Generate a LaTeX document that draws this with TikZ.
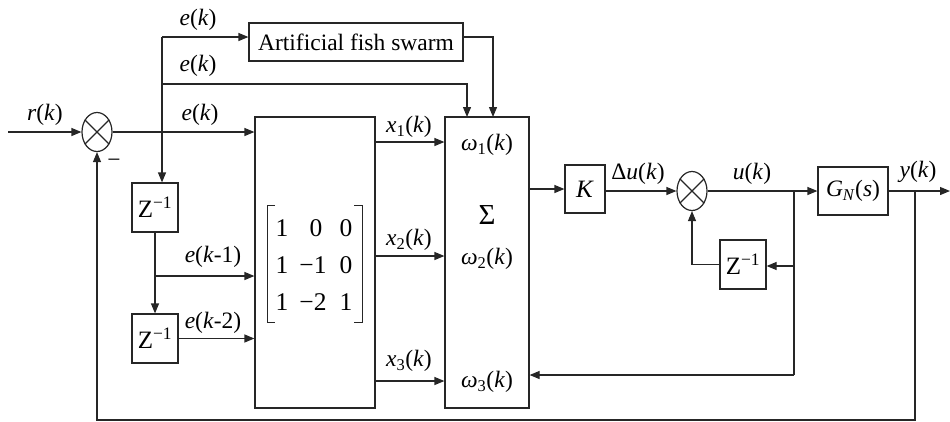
\documentclass[tikz,border=0pt]{standalone}
\usepackage{fontspec}
\setmainfont{Liberation Serif}
\usetikzlibrary{arrows.meta,shapes.geometric,calc}
\newcommand{\mi}[1]{\textit{#1}}
\begin{document}
\begin{tikzpicture}[x=1pt,y=-1pt,
  line width=1.2pt, draw=black!85,
  font=\fontsize{23.5}{27}\selectfont,
  blk/.style={draw=black!85, rectangle, inner sep=0pt},
  zbox/.style={blk, minimum width=46pt, minimum height=49pt, font=\fontsize{25}{28}\selectfont},
  sumj/.style={draw=black!85, ellipse, minimum width=30pt, minimum height=39pt, inner sep=0pt},
  arr/.style={-{Triangle[length=10pt,width=8pt]}},
  lbl/.style={inner sep=0pt},
  ment/.style={inner sep=0pt, font=\fontsize{25.5}{28}\selectfont}]
\useasboundingbox (0,0) rectangle (950,421);

% blocks
\node[sumj] (s1) at (97,132) {};
\draw (s1.45) -- (s1.225) (s1.135) -- (s1.315);
\node[blk, minimum width=120pt, minimum height=291pt] (mat) at (315,262.5) {};
\node[blk, minimum width=84pt, minimum height=291pt] (sig) at (487,262.5) {};
\node[blk, minimum width=214pt, minimum height=38pt] (fish) at (356,42) {Artificial fish swarm};
\node[zbox] (z1) at (155,207.5) {Z\textsuperscript{−1}};
\node[zbox] (z2) at (155,338.5) {Z\textsuperscript{−1}};
\node[blk, minimum width=40pt, minimum height=48pt, font=\fontsize{25}{28}\selectfont] (kb) at (585,189) {\mi{K}};
\node[sumj] (s2) at (692,191) {};
\draw (s2.45) -- (s2.225) (s2.135) -- (s2.315);
\node[blk, minimum width=70pt, minimum height=48pt] (gb) at (853,191) {\mi{G}\textsubscript{\mi{N}}(\mi{s})};
\node[zbox] (z3) at (743,264.5) {Z\textsuperscript{−1}};

% matrix
\node[ment] (m11) at (282,228) {1};
\node[ment] (m12) at (316,228) {0};
\node[ment] (m13) at (346,228) {0};
\node[ment] (m21) at (282,265) {1};
\node[ment] (m22) at (313,265) {−1};
\node[ment] (m23) at (346,265) {0};
\node[ment] (m31) at (282,302) {1};
\node[ment] (m32) at (313,302) {−2};
\node[ment] (m33) at (346,302) {1};
\draw[line width=1pt] (275,205) -- (267,205) -- (267,322) -- (275,322);
\draw[line width=1pt] (354,205) -- (362,205) -- (362,322) -- (354,322);

% sigma labels
\node[lbl] (w1) at (487,145) {\mi{ω}\textsubscript{1}(\mi{k})};
\node[lbl, font=\fontsize{29}{32}\selectfont] (sg) at (487,215) {Σ};
\node[lbl] (w2) at (487,259) {\mi{ω}\textsubscript{2}(\mi{k})};
\node[lbl] (w3) at (487,382) {\mi{ω}\textsubscript{3}(\mi{k})};

% coordinates
\coordinate (rin) at (8,132);
\coordinate (b1) at (162,132);
\coordinate (t1) at (162,37);
\coordinate (t2) at (162,84);
\coordinate (in1) at (467,117);
\coordinate (in2) at (493,117);
\coordinate (b2) at (155,276);
\coordinate (y1) at (0,142);
\coordinate (y2) at (0,256);
\coordinate (y3) at (0,381);
\coordinate (b3) at (794,191);
\coordinate (b3d) at (794,375);
\coordinate (b4) at (794,266);
\coordinate (b5) at (915,191);
\coordinate (fb) at (915,420);
\coordinate (yend) at (950,191);

% connectors
\draw[arr] (rin) -- (s1.west);
\draw[arr] (s1.east) -- (s1.east -| mat.west);
\draw (b1) -- (t1);
\draw[arr] (t1) -- (t1 -| fish.west);
\draw[arr] (t2) -| (in1);
\draw[arr] (t1 -| fish.east) -| (in2);
\draw[arr] (b1) -- (b1 |- z1.north);
\draw[arr] (z1.south) -- (z2.north);
\draw[arr] (b2) -- (b2 -| mat.west);
\draw[arr] (z2.east) -- (z2.east -| mat.west);
\draw[arr] (mat.east |- y1) -- (sig.west |- y1);
\draw[arr] (mat.east |- y2) -- (sig.west |- y2);
\draw[arr] (mat.east |- y3) -- (sig.west |- y3);
\draw[arr] (kb.west -| sig.east) -- (kb.west);
\draw[arr] (s2.west -| kb.east) -- (s2.west);
\draw[arr] (s2.east) -- (gb.west);
\draw (b3) -- (b3d);
\draw[arr] (b3d) -- (b3d -| sig.east);
\draw[arr] (b4) -- (b4 -| z3.east);
\draw[arr] (z3.west) -| (s2.south);
\draw[arr] (gb.east) -- (yend);
\draw[arr] (b5) -- (fb) -| (s1.south);

% labels
\node[lbl] (rl) at (45,115) {\mi{r}(\mi{k})};
\node[lbl] (minus) at (114,163) {−};
\node[lbl] (e1) at (198,20) {\mi{e}(\mi{k})};
\node[lbl] (e2) at (198,66) {\mi{e}(\mi{k})};
\node[lbl] (e3) at (200,115) {\mi{e}(\mi{k})};
\node[lbl] (e4) at (213,257) {\mi{e}(\mi{k}-1)};
\node[lbl] (e5) at (213,323) {\mi{e}(\mi{k}-2)};
\node[lbl] (x1) at (409,127) {\mi{x}\textsubscript{1}(\mi{k})};
\node[lbl] (x2) at (409,240) {\mi{x}\textsubscript{2}(\mi{k})};
\node[lbl] (x3) at (409,361) {\mi{x}\textsubscript{3}(\mi{k})};
\node[lbl] (du) at (638,174) {Δ\mi{u}(\mi{k})};
\node[lbl] (ul) at (752,174) {\mi{u}(\mi{k})};
\node[lbl] (yl) at (918,172) {\mi{y}(\mi{k})};
\end{tikzpicture}
\end{document}
